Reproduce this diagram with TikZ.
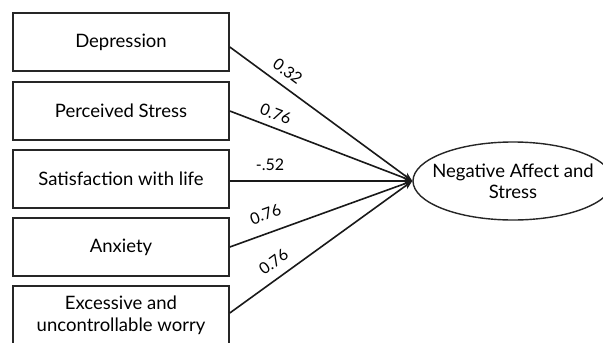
\documentclass[tikz,border=0pt]{standalone}
\usepackage{fontspec}
\setmainfont{Lato}
\usetikzlibrary{arrows.meta,shapes.geometric}
\begin{document}
\begin{tikzpicture}[x=1pt,y=-1pt,
  box/.style={draw=black!85,line width=1.6pt,minimum width=216pt,minimum height=58pt,inner sep=0pt,align=center,font=\fontsize{18.5}{22}\selectfont,fill=white},
  latent/.style={ellipse,draw=black!85,line width=1.4pt,minimum width=200pt,minimum height=78pt,inner sep=0pt},
  latenttext/.style={align=center,inner sep=0pt,font=\fontsize{18.5}{21}\selectfont},
  conn/.style={draw=black!90,line width=1.6pt,-{Stealth[length=9pt,width=7pt]}},
  lbl/.style={font=\fontsize{16}{18}\selectfont,inner sep=2pt}]
\useasboundingbox (0,0) rectangle (603,343);
\clip (0,0) rectangle (603,343);
\fill[white] (0,0) rectangle (603,343);
\node[box] (b1) at (121,42) {Depression};
\node[box] (b2) at (121,111) {Perceived Stress};
\node[box] (b3) at (121,179) {Satisfaction with life};
\node[box] (b4) at (121,247) {Anxiety};
\node[box] (b5) at (121,315) {Excessive and\\uncontrollable worry};
\node[latent] (ne) at (513,181) {};
\node[latenttext] (net) at (ne.center) {Negative Affect and\\Stress};
\draw[conn] ([yshift=-5pt]b1.east) -- node[lbl,sloped,above=6pt,pos=0.27]{0.32} (ne.west);
\draw[conn] (b2.east) -- node[lbl,sloped,above=5pt,pos=0.225]{0.76} (ne.west);
\draw[conn] ([yshift=-2pt]b3.east) -- node[lbl,sloped,above=8pt,pos=0.22]{-.52} (ne.west);
\draw[conn] (b4.east) -- node[lbl,sloped,above=10pt,pos=0.23]{0.76} (ne.west);
\draw[conn] ([yshift=2pt]b5.east) -- node[lbl,sloped,above=7pt,pos=0.29]{0.76} (ne.west);
\end{tikzpicture}
\end{document}
